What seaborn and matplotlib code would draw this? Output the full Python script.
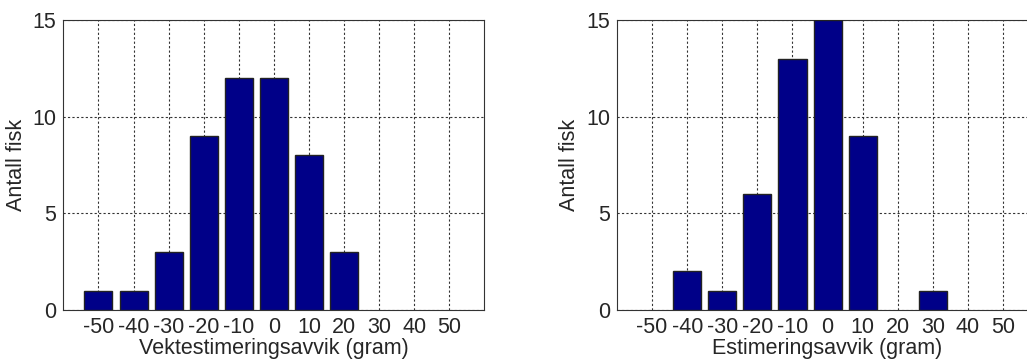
import matplotlib
matplotlib.use("Agg")
import matplotlib.pyplot as plt
import seaborn as sns
import pandas as pd

bins = [-50, -40, -30, -20, -10, 0, 10, 20, 30, 40, 50]
counts_left = [1, 1, 3, 9, 12, 12, 8, 3, 0, 0, 0]
counts_right = [0, 2, 1, 6, 13, 15, 9, 0, 1, 0, 0]
xlabel_left = "Vektestimeringsavvik (gram)"
xlabel_right = "Estimeringsavvik (gram)"
ylabel = "Antall fisk"
yticks = [0, 5, 10, 15]

sns.set_style("white")
plt.rcParams['font.family'] = ['Liberation Sans', 'DejaVu Sans']
plt.rcParams['axes.unicode_minus'] = False

fig = plt.figure(figsize=(10.27, 3.6), dpi=100)
ax1 = fig.add_axes([0.0617, 0.1389, 0.41, 0.8056])
ax2 = fig.add_axes([0.6008, 0.1389, 0.41, 0.8056])

for ax, counts, xl in [(ax1, counts_left, xlabel_left), (ax2, counts_right, xlabel_right)]:
    df = pd.DataFrame({"x": bins, "n": counts})
    sns.barplot(data=df, x="x", y="n", native_scale=True, width=0.8,
                color="#000088", saturation=1, edgecolor="#222222",
                linewidth=1.0, ax=ax, zorder=3)
    for p in ax.patches:
        if p.get_height() == 0:
            p.set_visible(False)
    ax.set_xlim(-60, 60)
    ax.set_ylim(0, 15)
    ax.set_xticks(bins)
    ax.set_xticklabels([str(b) for b in bins])
    ax.set_yticks(yticks)
    ax.grid(True, linestyle=(0, (2, 2)), color="#333333", linewidth=0.8, zorder=0)
    ax.set_axisbelow(True)
    ax.tick_params(direction="in", length=3, labelsize=15.5, pad=5, color="#333333")
    ax.set_xlabel(xl, fontsize=15.5, labelpad=0)
    ax.set_ylabel(ylabel, fontsize=15.5)
    ax.yaxis.set_label_coords(-0.087, 0.5)
    for s in ax.spines.values():
        s.set_visible(True)
        s.set_color("#333333")
        s.set_linewidth(0.8)

fig.savefig("out.png", dpi=100)
